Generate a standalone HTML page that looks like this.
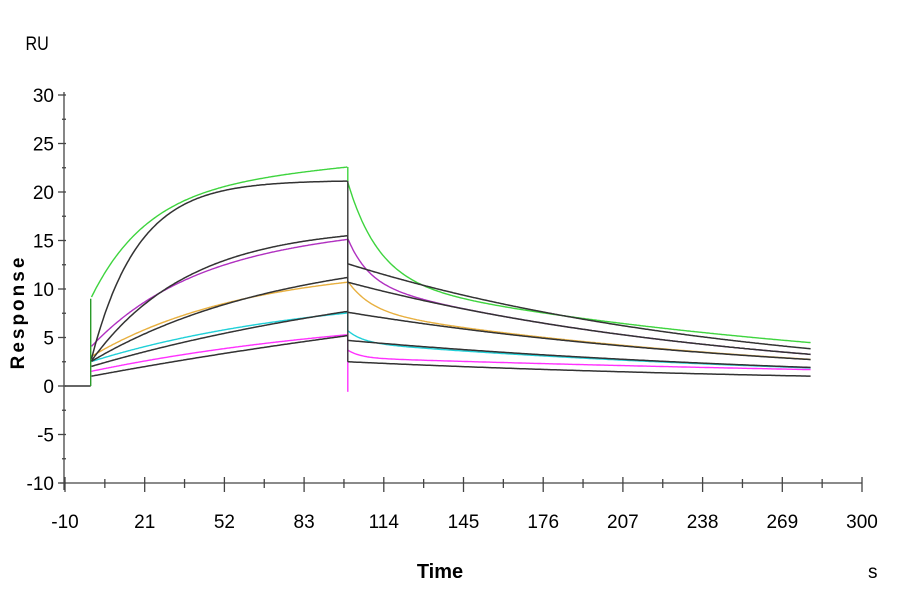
<!DOCTYPE html>
<html><head><meta charset="utf-8"><style>
body{margin:0;background:#fff;}
svg text{font-family:"Liberation Sans",sans-serif;}
</style></head><body>
<svg id="s" width="900" height="600" viewBox="0 0 900 600" xmlns="http://www.w3.org/2000/svg">
<rect width="900" height="600" fill="#fff"/>
<g id="ax" stroke="#444" stroke-width="1.3" fill="none"></g>
<g id="lab" fill="#000" font-size="19"></g>
<g id="cur" fill="none" stroke-width="1.4"></g>
<text x="26" y="50" font-size="19" transform="scale(0.85,1) translate(4,0)">RU</text>
<text x="440" y="578" font-size="20" font-weight="bold" text-anchor="middle">Time</text>
<text x="868" y="578" font-size="19">s</text>
<text font-size="19" font-weight="bold" letter-spacing="3" text-anchor="middle" transform="translate(24,312) rotate(-90)">Response</text>
</svg>
<script>
var NS="http://www.w3.org/2000/svg";
function X(t){return 65+(t+10)*797/310;}
function Y(v){return 386-v*9.7;}
function el(p,tag,a){var e=document.createElementNS(NS,tag);for(var k in a)e.setAttribute(k,a[k]);document.getElementById(p).appendChild(e);return e;}
el("ax","line",{x1:64,y1:92,x2:64,y2:490});
el("ax","line",{x1:60,y1:483,x2:862,y2:483});
for(var v=-10;v<=30;v+=5){var y=Y(v);el("ax","line",{x1:58,y1:y,x2:66,y2:y});
 var t=el("lab","text",{x:54,y:y+7,"text-anchor":"end"});t.textContent=v;}
for(var v=-7.5;v<30;v+=5){var y=Y(v);el("ax","line",{x1:62,y1:y,x2:66,y2:y});}
for(var i=0;i<=10;i++){var x=65+i*79.7;el("ax","line",{x1:x,y1:477,x2:x,y2:492});
 var t=el("lab","text",{x:x,y:528,"text-anchor":"middle"});t.textContent=(-10+31*i);
 if(i<10){el("ax","line",{x1:x+39.85,y1:479,x2:x+39.85,y2:488});}}
function path(col,f,t0,t1,w){var d="";for(var t=t0;t<=t1;t+=0.5){d+=(d?"L":"M")+X(t).toFixed(1)+","+Y(f(t)).toFixed(1);}
 el("cur","path",{d:d,stroke:col,"stroke-width":w||1.4});}
var E=Math.exp, TE=280;
path("#333",function(){return 0},-10,0);
var data=[
 ["#3ed43e",9,11.5,22,2.2,10,12,11,0.0050],
 ["#b030c0",4,10.8,40,1.2,4.5,8,10.7,0.0066],
 ["#e8b040",3,9.5,60,0,3,9,7.8,0.0058],
 ["#20d0d8",2.5,7.5,90,0,1.2,6,4.5,0.0049],
 ["#ff30ff",1.5,6.7,120,0,0.8,5,2.9,0.0030]
];
data.forEach(function(d){
 var c=d[0];
 var fa=function(t){return d[1]+d[2]*(1-E(-t/d[3]))+d[4]*t/100;};
 var end=fa(100);
 path(c,fa,0.3,100);
 path(c,function(t){var s=t-100;return d[5]*E(-s/d[6])+d[7]*E(-d[8]*s);},100,TE);
 el("cur","line",{x1:X(100),y1:Y(end),x2:X(100),y2:Y(d[5]+d[7]),stroke:c});
});
el("cur","line",{x1:X(100),y1:Y(5),x2:X(100),y2:Y(-0.6),stroke:"#ff30ff"});
el("cur","line",{x1:X(0),y1:Y(0),x2:X(0),y2:Y(9),stroke:"#2a9a2a"});
var fits=[[21.2,18,12.6,0.0066,2.5],[16.5,38,10.7,0.0066,2.5],[14.3,75,7.6,0.0057,2.5],[13.7,150,4.7,0.0050,2],[15.8,300,2.5,0.0050,1]];
fits.forEach(function(f){
 var fa=function(t){return f[4]+(f[0]-f[4])*(1-E(-t/f[1]));};
 path("#333",fa,0.3,100,1.5);
 path("#333",function(t){return f[2]*E(-f[3]*(t-100));},100,TE,1.5);
 el("cur","line",{x1:X(100),y1:Y(fa(100)),x2:X(100),y2:Y(f[2]),stroke:"#333"});
});
</script>
</body></html>
